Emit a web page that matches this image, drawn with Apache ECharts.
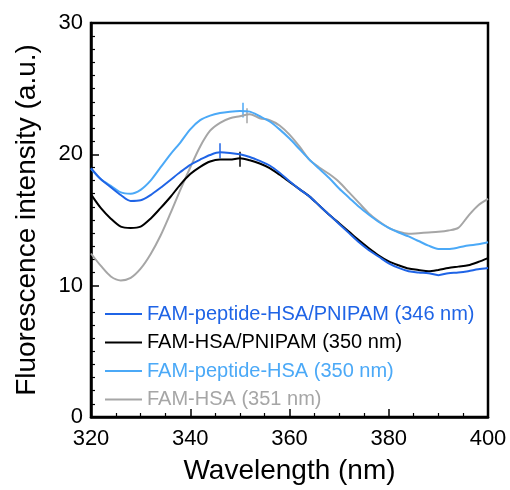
<!DOCTYPE html>
<html lang="en">

<head>
    <meta charset="UTF-8">
    <title>Fluorescence spectra</title>
    <script src="https://cdn.jsdelivr.net/npm/echarts@6/dist/echarts.min.js"></script>
    <style>
        body { margin: 0; background: #fff; }
    </style>
</head>

<body>
    <div id="main" style="width: 510px; height: 490px;"></div>
    <script>
        // wavelength (nm)
        const wavelengths = [320, 322, 324, 326, 328, 330, 332, 334, 336, 338, 340, 342, 344, 346, 348, 350,
            352, 354, 356, 358, 360, 362, 364, 366, 368, 370, 372, 374, 376, 378, 380, 382, 384, 386, 388, 390,
            392, 394, 396, 398, 400]

        const peptidePnipam = [18.95, 18.1, 17.5, 16.9, 16.45, 16.5, 16.9, 17.45, 18.05, 18.65, 19.2, 19.6, 19.95, 20.15, 20.1, 20.0,
            19.8, 19.5, 19.15, 18.6, 17.95, 17.35, 16.8, 16.1, 15.4, 14.7, 14.0, 13.3, 12.7, 12.2, 11.7, 11.35, 11.1, 11.0, 10.95, 10.8,
            10.95, 11.0, 11.1, 11.25, 11.35]

        const hsaPnipam = [16.95, 15.9, 15.1, 14.5, 14.4, 14.5, 15.1, 15.9, 16.75, 17.7, 18.5, 19.05, 19.45, 19.6, 19.6, 19.7,
            19.55, 19.3, 18.95, 18.45, 17.9, 17.35, 16.8, 16.1, 15.4, 14.75, 14.1, 13.45, 12.85, 12.3, 11.85, 11.55, 11.3, 11.2, 11.1, 11.2,
            11.35, 11.45, 11.55, 11.8, 12.1]

        const peptideHsa = [18.9, 18.1, 17.6, 17.1, 17.0, 17.3, 18.0, 19.0, 20.0, 20.9, 21.9, 22.6, 22.95, 23.15, 23.25, 23.3,
            23.25, 22.9, 22.5, 21.9, 21.2, 20.4, 19.6, 18.9, 18.2, 17.4, 16.7, 16.0, 15.4, 14.85, 14.4, 14.05, 13.75, 13.4, 13.05, 12.8,
            12.8, 12.9, 13.05, 13.15, 13.3]

        const hsa = [12.45, 11.5, 10.7, 10.4, 10.6, 11.3, 12.4, 13.8, 15.5, 17.3, 19.0, 20.6, 21.8, 22.4, 22.75, 22.9,
            23.05, 22.75, 22.6, 22.2, 21.5, 20.6, 19.6, 19.0, 18.5, 17.9, 17.1, 16.3, 15.5, 14.9, 14.4, 14.1, 13.95, 14.0, 14.05, 14.1,
            14.2, 14.4, 15.3, 16.1, 16.6]

        // peak markers: wavelength, bottom and top of the short vertical tick
        const peakX = [346, 350, 350.5, 351.4]
        const peakLow = [19.7, 19.06, 22.8, 22.36]
        const peakHigh = [20.85, 20.2, 23.93, 23.5]

        const names = [
            'FAM-peptide-HSA/PNIPAM (346 nm)',
            'FAM-HSA/PNIPAM (350 nm)',
            'FAM-peptide-HSA (350 nm)',
            'FAM-HSA (351 nm)',
        ]
        const colors = ['#1f64e6', '#000000', '#4ba9f7', '#a6a6a6']
        const values = [peptidePnipam, hsaPnipam, peptideHsa, hsa]

        const font = 'Liberation Sans, Arial, sans-serif'

        const element = document.querySelector('#main')
        const chart = echarts.init(element)

        const makeSeries = (i) => {
            let data = wavelengths.map((w, j) => [w, values[i][j]])
            return {
                name: names[i],
                type: 'line',
                data: data,
                showSymbol: false,
                smooth: 0.3,
                z: 10 - i,
                lineStyle: { color: colors[i], width: 2 },
                itemStyle: { color: colors[i] },
                markLine: {
                    silent: true,
                    symbol: 'none',
                    label: { show: false },
                    lineStyle: { color: colors[i], width: 1.5, type: 'solid' },
                    data: [[
                        { coord: [peakX[i], peakLow[i]] },
                        { coord: [peakX[i], peakHigh[i]] },
                    ]],
                },
            }
        }

        const series = [3, 2, 1, 0].map(makeSeries)

        const option = {
            animation: false,
            grid: {
                left: 91, right: 22, top: 23, bottom: 73,
                show: true, borderColor: '#000', borderWidth: 2.5,
            },
            legend: {
                orient: 'vertical',
                left: 100,
                top: 299,
                itemWidth: 37,
                itemHeight: 2,
                itemGap: 8.5,
                icon: 'rect',
                data: names.map((n, i) => ({
                    name: n,
                    textStyle: { color: colors[i] },
                })),
                textStyle: { fontFamily: font, fontSize: 20 },
            },
            xAxis: {
                type: 'value',
                min: 320, max: 400, interval: 20,
                name: 'Wavelength (nm)',
                nameLocation: 'middle',
                nameGap: 40,
                nameTextStyle: { fontFamily: font, fontSize: 28, color: '#000' },
                axisLine: { lineStyle: { color: '#000', width: 2.5 } },
                axisTick: { inside: true, length: 8, lineStyle: { color: '#000', width: 1.5 } },
                minorTick: { show: true, splitNumber: 4, length: 4, lineStyle: { color: '#000', width: 1.2 } },
                axisLabel: { fontFamily: font, fontSize: 22, color: '#000', margin: 11 },
                splitLine: { show: false },
            },
            yAxis: {
                type: 'value',
                min: 0, max: 30, interval: 10,
                name: 'Fluorescence intensity (a.u.)',
                nameLocation: 'middle',
                nameGap: 50,
                nameTextStyle: { fontFamily: font, fontSize: 28, color: '#000' },
                axisLine: { lineStyle: { color: '#000', width: 2.5 } },
                axisTick: { inside: true, length: 8, lineStyle: { color: '#000', width: 1.5 } },
                minorTick: { show: true, splitNumber: 10, length: 4, lineStyle: { color: '#000', width: 1.2 } },
                axisLabel: { fontFamily: font, fontSize: 22, color: '#000', margin: 8 },
                splitLine: { show: false },
            },
            series: series,
        }

        chart.setOption(option)
    </script>
</body>

</html>
